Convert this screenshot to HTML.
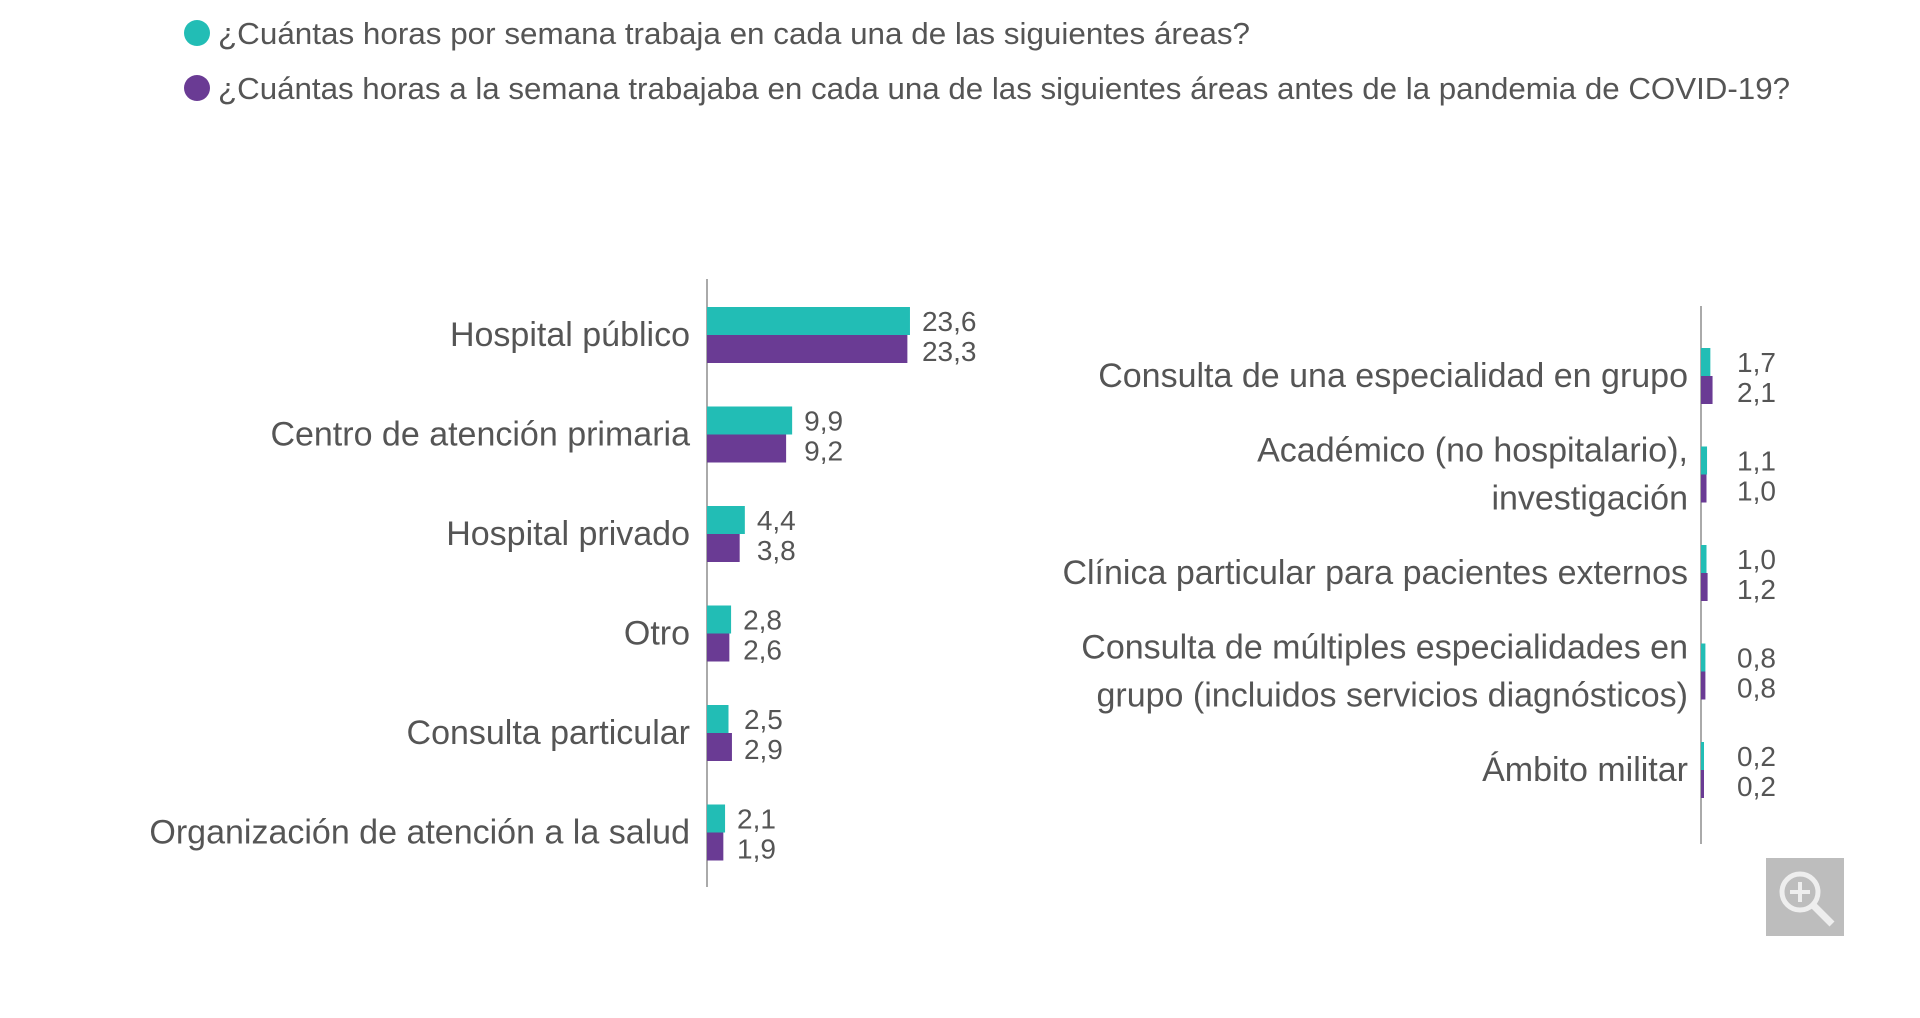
<!DOCTYPE html>
<html><head><meta charset="utf-8"><style>
html,body{margin:0;padding:0;background:#fff;width:1920px;height:1018px;overflow:hidden}
svg{display:block}
text{font-family:"Liberation Sans Narrow","Liberation Sans",sans-serif;fill:#555}
</style></head><body>
<svg id="chart" width="1920" height="1018">
<g>
<circle cx="197" cy="33" r="13" fill="#22bdb5"/>
<text x="218" y="44" font-size="31" textLength="1032" lengthAdjust="spacingAndGlyphs">¿Cuántas horas por semana trabaja en cada una de las siguientes áreas?</text>
<circle cx="197" cy="88" r="13" fill="#6a3b94"/>
<text x="218" y="99" font-size="31" textLength="1572" lengthAdjust="spacingAndGlyphs">¿Cuántas horas a la semana trabajaba en cada una de las siguientes áreas antes de la pandemia de COVID-19?</text>
</g>
<line x1="707" y1="279" x2="707" y2="887" stroke="#aaa" stroke-width="2"/>
<line x1="1701" y1="306" x2="1701" y2="844" stroke="#aaa" stroke-width="2"/>
<g id="left"></g>
<g id="right"></g>
<g>
<rect x="1766" y="858" width="78" height="78" fill="#bdbdbd"/>
<circle cx="1800" cy="892" r="18" fill="none" stroke="#eee" stroke-width="5"/>
<line x1="1813" y1="905" x2="1832" y2="924" stroke="#eee" stroke-width="7"/>
<line x1="1790" y1="892" x2="1810" y2="892" stroke="#eee" stroke-width="4"/>
<line x1="1800" y1="882" x2="1800" y2="902" stroke="#eee" stroke-width="4"/>
</g>
</svg>
<script>
const leftCategories=["Hospital público","Centro de atención primaria","Hospital privado","Otro","Consulta particular","Organización de atención a la salud"];
const leftCurrent=[23.6,9.9,4.4,2.8,2.5,2.1];
const leftBefore=[23.3,9.2,3.8,2.6,2.9,1.9];
const rightCategories=[["Consulta de una especialidad en grupo"],["Académico (no hospitalario),","investigación"],["Clínica particular para pacientes externos"],["Consulta de múltiples especialidades en","grupo (incluidos servicios diagnósticos)"],["Ámbito militar"]];
const rightCurrent=[1.7,1.1,1.0,0.8,0.2];
const rightBefore=[2.1,1.0,1.2,0.8,0.2];
const NS="http://www.w3.org/2000/svg";
function fmt(v){return v.toFixed(1).replace('.',',');}
function mk(tag,attrs,parent){const e=document.createElementNS(NS,tag);for(const k in attrs)e.setAttribute(k,attrs[k]);parent.appendChild(e);return e;}
function draw(gid,cats,cur,bef,axisX,y0,step,scale,minW,labelRight,valX,fs){
  const g=document.getElementById(gid);
  const xw=v=>Math.max(minW,v*scale);
  cats.forEach((c,i)=>{
    const cy=y0+i*step;
    const b1=mk('rect',{x:axisX,y:cy-28,width:xw(cur[i]),height:28,fill:'#22bdb5'},g);
    
    
    const b2=mk('rect',{x:axisX,y:cy,width:xw(bef[i]),height:28,fill:'#6a3b94'},g);
    
    
    const lines=Array.isArray(c)?c:[c];
    lines.forEach((ln,j)=>{
      const t=mk('text',{x:labelRight,y:cy+11+(j-(lines.length-1)/2)*48,'font-size':fs,'text-anchor':'end'},g);
      t.textContent=ln;
      
      
    });
    const vx=gid==='left'?axisX+xw(Math.max(cur[i],bef[i]))+12:valX;
    const t1=mk('text',{x:vx,y:cy-4,'font-size':28},g);t1.textContent=fmt(cur[i]);
    
    
    const t2=mk('text',{x:vx,y:cy+26,'font-size':28},g);t2.textContent=fmt(bef[i]);
    
    
  });
}
draw('left',leftCategories,leftCurrent,leftBefore,707,335,99.5,8.6,6,690,0,34);
draw('right',rightCategories,rightCurrent,rightBefore,1701,376,98.5,5.5,3,1688,1737,34);
</script>
</body></html>
